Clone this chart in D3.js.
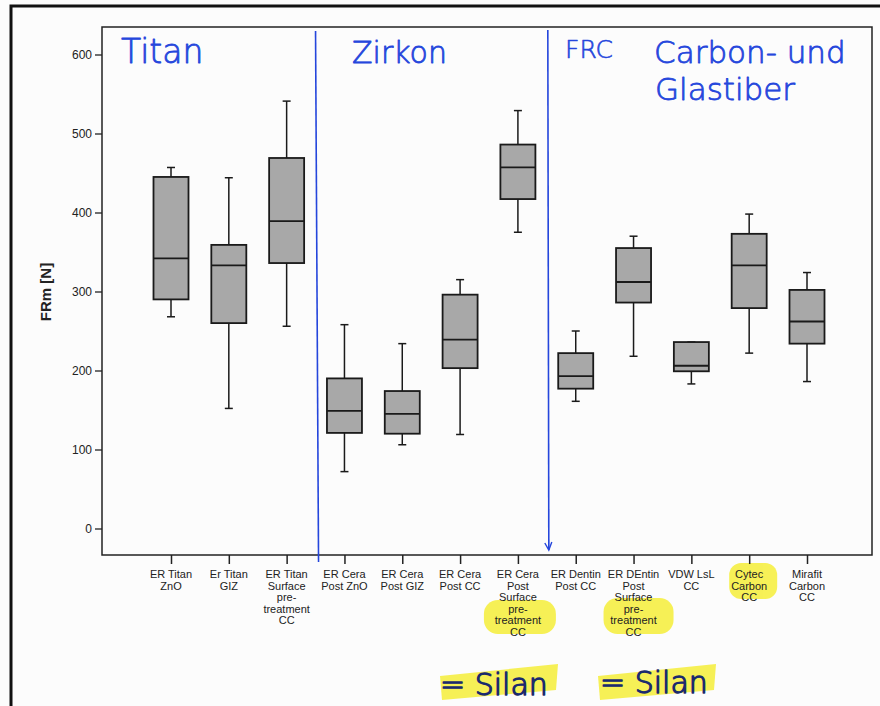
<!DOCTYPE html>
<html>
<head>
<meta charset="utf-8">
<script src="https://cdn.jsdelivr.net/npm/d3@7"></script>
<style>
  body { margin: 0; background: #fcfcfc; }
  svg { display: block; }
</style>
</head>
<body>
<svg width="880" height="706"></svg>
<script>
const categories = ["tzno", "tgiz", "tsurf", "czno", "cgiz", "ccc", "csurf", "dcc", "dsurf", "vdw", "cytec", "mirafit"];
const labelLines = [
  ["ER Titan", "ZnO"],
  ["Er Titan", "GIZ"],
  ["ER Titan", "Surface", "pre-", "treatment", "CC"],
  ["ER Cera", "Post  ZnO"],
  ["ER Cera", "Post GIZ"],
  ["ER Cera", "Post  CC"],
  ["ER Cera", "Post", "Surface", "pre-", "treatment", "CC"],
  ["ER Dentin", "Post CC"],
  ["ER DEntin", "Post", "Surface", "pre-", "treatment", "CC"],
  ["VDW LsL", "CC"],
  ["Cytec", "Carbon", "CC"],
  ["Mirafit", "Carbon", "CC"]
];
const whiskerLow = [268, 152, 256, 72, 106, 119, 375, 161, 218, 183, 222, 186];
const q1 = [290, 260, 336, 121, 120, 203, 417, 177, 286, 199, 279, 234];
const median = [342, 333, 389, 149, 145, 239, 457, 193, 312, 206, 333, 262];
const q3 = [445, 359, 469, 190, 174, 296, 486, 222, 355, 236, 373, 302];
const whiskerHigh = [457, 444, 541, 258, 234, 315, 529, 250, 370, 236, 398, 324];
const yTicks = [0, 100, 200, 300, 400, 500, 600];

const svg = d3.select("svg"),
  width = +svg.attr("width"),
  height = +svg.attr("height");

const plotLeft = 102, plotRight = 872, plotTop = 27, plotBottom = 555;

const x = d3.scalePoint().domain(categories).range([171, 807]);
const y = d3.scaleLinear().domain([0, 600]).range([528.5, 54.5]);
const boxW = 35;

// photo frame
svg.append("path")
  .attr("d", `M11,${height} L11,6 L${width},6`)
  .attr("fill", "none").attr("stroke", "#111").attr("stroke-width", 3);

// yellow marker highlights
const yellow = "#f6ef3a";
const hl = svg.append("g").attr("fill", yellow).attr("opacity", 0.85);
hl.append("rect").attr("x", x("csurf") - 34).attr("y", 600).attr("width", 72).attr("height", 34).attr("rx", 14);
hl.append("rect").attr("x", x("dsurf") - 30).attr("y", 598).attr("width", 70).attr("height", 36).attr("rx", 14);
hl.append("rect").attr("x", x("cytec") - 20).attr("y", 563).attr("width", 48).attr("height", 36).attr("rx", 12);
hl.append("path").attr("d", "M440,676 L558,664 L556,690 L442,700 Z");
hl.append("path").attr("d", "M598,676 L716,664 L714,690 L600,700 Z");

// plot box
svg.append("rect")
  .attr("x", plotLeft).attr("y", plotTop)
  .attr("width", plotRight - plotLeft).attr("height", plotBottom - plotTop)
  .attr("fill", "none").attr("stroke", "#222").attr("stroke-width", 1.5);

// y axis
const yAxis = svg.append("g").attr("transform", `translate(${plotLeft},0)`)
  .call(d3.axisLeft(y).tickValues(yTicks).tickSize(7).tickSizeOuter(0).tickPadding(3));
yAxis.select(".domain").remove();
yAxis.selectAll("line").attr("stroke", "#222").attr("stroke-width", 1.3);
yAxis.selectAll("text").style("font-family", "Liberation Sans, Arial, sans-serif").style("font-size", "12px").attr("fill", "#222");

svg.append("text")
  .attr("transform", `translate(51,292) rotate(-90)`)
  .attr("text-anchor", "middle")
  .style("font-family", "Liberation Sans, Arial, sans-serif")
  .style("font-size", "15px").style("font-weight", "bold")
  .attr("fill", "#222")
  .text("FRm [N]");

// x ticks and labels
const xg = svg.append("g").attr("transform", `translate(0,${plotBottom})`)
  .call(d3.axisBottom(x).tickSize(9).tickFormat(""));
xg.select(".domain").remove();
xg.selectAll("line").attr("stroke", "#222").attr("stroke-width", 1.5);

categories.forEach((c, i) => {
  const t = svg.append("text")
    .attr("text-anchor", "middle")
    .style("font-family", "Liberation Sans, Arial, sans-serif")
    .style("font-size", "11px")
    .attr("fill", "#222");
  labelLines[i].forEach((line, j) => {
    t.append("tspan").attr("x", x(c)).attr("y", plotBottom + 23 + j * 11.5).text(line);
  });
});

// boxplots
const boxes = svg.append("g").selectAll("g")
  .data(categories)
  .join("g")
  .attr("stroke", "#1a1a1a");

boxes.append("line")
  .attr("x1", d => x(d)).attr("x2", d => x(d))
  .attr("y1", (d, i) => y(whiskerHigh[i])).attr("y2", (d, i) => y(whiskerLow[i]))
  .attr("stroke-width", 1.5);
boxes.append("line")
  .attr("x1", d => x(d) - 4).attr("x2", d => x(d) + 4)
  .attr("y1", (d, i) => y(whiskerHigh[i])).attr("y2", (d, i) => y(whiskerHigh[i]))
  .attr("stroke-width", 1.5);
boxes.append("line")
  .attr("x1", d => x(d) - 4).attr("x2", d => x(d) + 4)
  .attr("y1", (d, i) => y(whiskerLow[i])).attr("y2", (d, i) => y(whiskerLow[i]))
  .attr("stroke-width", 1.5);
boxes.append("rect")
  .attr("x", d => x(d) - boxW / 2)
  .attr("y", (d, i) => y(q3[i]))
  .attr("width", boxW)
  .attr("height", (d, i) => y(q1[i]) - y(q3[i]))
  .attr("fill", "#a8a8a8")
  .attr("stroke-width", 1.8);
boxes.append("line")
  .attr("x1", d => x(d) - boxW / 2).attr("x2", d => x(d) + boxW / 2)
  .attr("y1", (d, i) => y(median[i])).attr("y2", (d, i) => y(median[i]))
  .attr("stroke-width", 1.8);

// handwritten annotations
const blue = "#2546dc";
const split1 = (x("tsurf") + x("czno")) / 2 + 1;
const split2 = (x("csurf") + x("dcc")) / 2 + 1;
svg.append("line").attr("x1", split1 - 1).attr("y1", 31).attr("x2", split1 + 2).attr("y2", 562)
  .attr("stroke", blue).attr("stroke-width", 1.6);
svg.append("line").attr("x1", split2).attr("y1", 30).attr("x2", split2 + 1).attr("y2", 550)
  .attr("stroke", blue).attr("stroke-width", 1.6);
svg.append("path").attr("d", `M${split2 - 3},${543} L${split2 + 1},${550} L${split2 + 4},${542}`)
  .attr("fill", "none").attr("stroke", blue).attr("stroke-width", 1.4);

const hand = "DejaVu Sans, sans-serif";
function note(tx, ty, size, str, color, sw) {
  svg.append("text").attr("x", tx).attr("y", ty)
    .style("font-family", hand).style("font-size", size + "px").style("font-weight", 200)
    .attr("fill", color).attr("stroke", color).attr("stroke-width", sw)
    .attr("stroke-linejoin", "round").text(str);
}
note(121, 63, 33, "Titan", blue, 0.8);
note(352, 63, 30, "Zirkon", blue, 0.8);
note(565, 58, 25, "FRC", blue, 0.6);
note(654, 63, 31, "Carbon- und", blue, 0.8);
note(655, 100, 31, "Glastiber", blue, 0.8);
note(440, 695, 30, "= Silan", "#1b2a6e", 1.3);
note(600, 693, 30, "= Silan", "#1b2a6e", 1.3);
</script>
</body>
</html>
